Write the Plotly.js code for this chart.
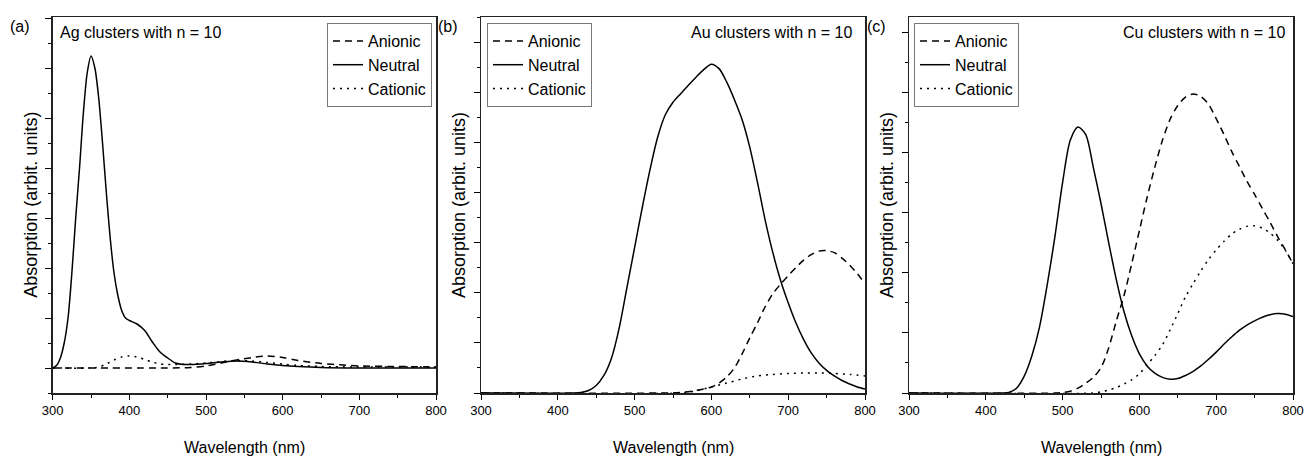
<!DOCTYPE html>
<html>
<head>
<meta charset="utf-8">
<script src="https://cdn.plot.ly/plotly-3.0.1.min.js"></script>
<style>html,body{margin:0;padding:0;background:#fff;}#chart{width:1305px;height:457px;}</style>
</head>
<body>
<div id="chart"></div>
<script>
// ---------- DATA ----------
const seriesNames = ["Anionic", "Neutral", "Cationic"];
const panelLabels = ["(a)", "(b)", "(c)"];
const panelTitles = ["Ag clusters with n = 10", "Au clusters with n = 10", "Cu clusters with n = 10"];
const xTickVals = [300, 400, 500, 600, 700, 800];
const xTickText = ["300", "400", "500", "600", "700", "800"];
const xTitle = "Wavelength (nm)";
const yTitle = "Absorption (arbit. units)";

// Ag
const agAnionicX = [300,450,480,500,520,540,560,580,600,620,650,680,700,750,800];
const agAnionicY = [0,0,0.01,0.04,0.1,0.16,0.21,0.24,0.21,0.15,0.09,0.06,0.04,0.03,0.02];
const agNeutralX = [300,305,310,315,320,325,330,335,340,345,350,355,360,365,370,375,380,385,390,395,400,410,420,430,440,450,460,470,480,500,520,540,560,580,600,620,650,700,800];
const agNeutralY = [0,0.05,0.2,0.5,1.0,1.9,3.0,4.0,5.1,5.9,6.24,6.0,5.4,4.5,3.5,2.6,1.9,1.45,1.15,1.0,0.95,0.88,0.75,0.52,0.32,0.2,0.1,0.07,0.07,0.09,0.12,0.14,0.12,0.08,0.05,0.03,0.01,0,0];
const agCationicX = [300,350,360,370,380,390,400,410,420,430,440,460,480,500,520,540,560,580,600,620,650,700,800];
const agCationicY = [0,0,0.02,0.08,0.16,0.22,0.24,0.22,0.17,0.12,0.08,0.07,0.08,0.1,0.13,0.15,0.14,0.11,0.08,0.05,0.03,0.02,0.02];

// Au
const auAnionicX = [300,540,560,580,600,610,620,630,640,650,660,670,680,690,700,710,720,730,740,750,760,770,780,790,800];
const auAnionicY = [0,0,0.01,0.05,0.12,0.2,0.32,0.5,0.78,1.1,1.4,1.72,1.98,2.17,2.34,2.5,2.65,2.76,2.83,2.84,2.8,2.69,2.55,2.38,2.18];
const auNeutralX = [300,420,430,440,450,460,470,480,490,500,510,520,530,540,550,560,570,580,590,600,610,620,630,640,650,660,670,680,690,700,710,720,730,740,750,760,770,780,790,800];
const auNeutralY = [0,0,0.01,0.05,0.15,0.35,0.7,1.3,2.1,2.9,3.7,4.45,5.1,5.55,5.8,5.97,6.14,6.3,6.45,6.56,6.47,6.2,5.85,5.45,4.9,4.2,3.45,2.8,2.25,1.8,1.4,1.07,0.8,0.6,0.45,0.34,0.25,0.18,0.12,0.08];
const auCationicX = [300,560,580,600,620,640,660,680,700,720,740,760,780,800];
const auCationicY = [0,0,0.04,0.12,0.2,0.28,0.34,0.37,0.39,0.4,0.4,0.39,0.37,0.34];

// Cu
const cuAnionicX = [300,490,500,510,520,530,540,550,560,570,580,590,600,610,620,630,640,650,660,670,680,690,700,710,720,730,740,750,760,770,780,790,800];
const cuAnionicY = [0,0,0.01,0.03,0.08,0.16,0.26,0.42,0.75,1.2,1.62,2.15,2.7,3.25,3.75,4.2,4.55,4.78,4.92,4.97,4.93,4.8,4.56,4.3,4.02,3.77,3.52,3.3,3.07,2.84,2.6,2.38,2.15];
const cuNeutralX = [300,420,430,440,450,460,470,480,490,500,510,520,530,540,550,560,570,580,590,600,610,620,630,640,650,660,670,680,690,700,710,720,730,740,750,760,770,780,790,800];
const cuNeutralY = [0,0,0.01,0.08,0.28,0.62,1.1,1.8,2.6,3.5,4.2,4.42,4.3,3.75,3.15,2.5,1.88,1.35,0.95,0.65,0.45,0.33,0.26,0.23,0.24,0.29,0.36,0.45,0.56,0.68,0.81,0.93,1.04,1.13,1.2,1.26,1.3,1.32,1.31,1.27];
const cuCationicX = [300,540,550,560,570,580,590,600,610,620,630,640,650,660,670,680,690,700,710,720,730,740,750,760,770,780,790,800];
const cuCationicY = [0,0,0.02,0.05,0.09,0.15,0.22,0.32,0.47,0.62,0.8,1.05,1.32,1.6,1.82,2.03,2.22,2.38,2.52,2.64,2.72,2.77,2.78,2.74,2.66,2.54,2.37,2.15];

// ---------- STYLE / LAYOUT ----------
const W = 1305, H = 457;
const FONT = "Liberation Sans, Arial, sans-serif";
const dashes = ["7px,5px", "solid", "2px,5px"];
const px = v => v / W;
const py = v => 1 - v / H;

const panels = [
  {X:[agAnionicX,agNeutralX,agCationicX], Y:[agAnionicY,agNeutralY,agCationicY], x0:52.7, x1:436, yr:[-0.5,7.02]},
  {X:[auAnionicX,auNeutralX,auCationicX], Y:[auAnionicY,auNeutralY,auCationicY], x0:481, x1:865, yr:[0,7.5]},
  {X:[cuAnionicX,cuNeutralX,cuCationicX], Y:[cuAnionicY,cuNeutralY,cuCationicY], x0:909, x1:1293, yr:[0,6.25]}
];
const plotTop = 17, plotBot = 393;

const data = [];
const layout = {
  width: W, height: H,
  margin: {l:0, r:0, t:0, b:0},
  paper_bgcolor: "#fff", plot_bgcolor: "#fff",
  font: {family: FONT, color: "#000"},
  annotations: [],
  showlegend: true
};

const legendPos = [
  {x: px(432), xanchor: "right"},
  {x: px(487), xanchor: "left"},
  {x: px(914), xanchor: "left"}
];

panels.forEach((p, i) => {
  const sfx = i === 0 ? "" : String(i + 1);
  const legName = "legend" + sfx;
  for (let s = 0; s < 3; s++) {
    data.push({
      type: "scatter", mode: "lines",
      x: p.X[s], y: p.Y[s],
      name: seriesNames[s],
      xaxis: "x" + sfx, yaxis: "y" + sfx,
      legend: legName,
      line: {color: "#000", width: 1.5, dash: dashes[s], shape: "spline", smoothing: 0.8},
      hoverinfo: "skip"
    });
  }
  layout["xaxis" + sfx] = {
    domain: [px(p.x0), px(p.x1)],
    anchor: "y" + sfx,
    range: [300, 800],
    tickmode: "array", tickvals: xTickVals, ticktext: xTickText,
    ticks: "outside", ticklen: 5, tickwidth: 1, tickcolor: "#000",
    minor: {tickmode: "linear", tick0: 300, dtick: 50, ticks: "outside", ticklen: 3, tickcolor: "#000", showgrid: false},
    tickfont: {family: FONT, size: 13, color: "#000"},
    showline: true, mirror: true, linecolor: "#222", linewidth: 1.5,
    showgrid: false, zeroline: false, fixedrange: true
  };
  layout["yaxis" + sfx] = {
    domain: [py(plotBot), py(plotTop)],
    anchor: "x" + sfx,
    range: p.yr,
    tickmode: "linear", tick0: 0, dtick: 1,
    showticklabels: false,
    ticks: "outside", ticklen: 6, tickwidth: 1, tickcolor: "#000",
    minor: {tickmode: "linear", tick0: 0, dtick: 0.5, ticks: "outside", ticklen: 3, tickcolor: "#000", showgrid: false},
    showline: true, mirror: true, linecolor: "#222", linewidth: 1.5,
    showgrid: false, zeroline: false, fixedrange: true
  };
  layout[legName] = {
    x: legendPos[i].x, xanchor: legendPos[i].xanchor,
    y: py(23), yanchor: "top",
    bgcolor: "#fff", bordercolor: "#777", borderwidth: 1,
    font: {family: FONT, size: 16, color: "#000"},
    tracegroupgap: 0, traceorder: "normal"
  };
  layout.annotations.push({
    xref: "paper", yref: "paper", x: px(p.x0 - 33), y: py(26),
    xanchor: "center", yanchor: "middle", showarrow: false,
    text: panelLabels[i], font: {family: FONT, size: 16, color: "#000"}
  });
  const tRight = [null, 855, 1287][i];
  layout.annotations.push({
    xref: "paper", yref: "paper",
    x: i === 0 ? px(58) : px(tRight),
    xanchor: i === 0 ? "left" : "right",
    y: py(32), yanchor: "middle", showarrow: false,
    text: panelTitles[i], font: {family: FONT, size: 16, color: "#000"}
  });
  layout.annotations.push({
    xref: "paper", yref: "paper", x: px(p.x0 - 22), y: py(205),
    xanchor: "center", yanchor: "middle", showarrow: false, textangle: -90,
    text: yTitle, font: {family: FONT, size: 18, color: "#000"}
  });
  layout.annotations.push({
    xref: "paper", yref: "paper", x: px((p.x0 + p.x1) / 2), y: py(447),
    xanchor: "center", yanchor: "middle", showarrow: false,
    text: xTitle, font: {family: FONT, size: 16, color: "#000"}
  });
});

Plotly.newPlot("chart", data, layout, {displayModeBar: false, staticPlot: true});
</script>
</body>
</html>
